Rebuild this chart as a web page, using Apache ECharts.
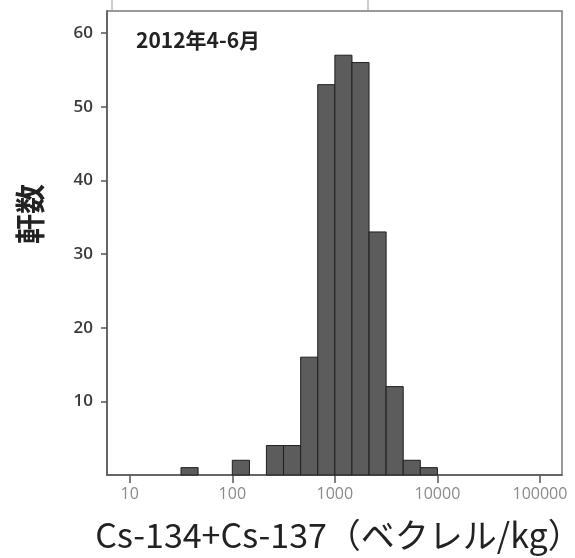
<!DOCTYPE html>
<html>
<head>
<meta charset="utf-8">
<script src="https://cdn.jsdelivr.net/npm/echarts@6/dist/echarts.min.js"></script>
<style>
html,body{margin:0;padding:0;background:#fff;}
#chart{width:575px;height:558px;}
</style>
</head>
<body>
<div id="chart"></div>
<script>
// Histogram bins (Bq/kg), lower and upper edges, and counts
const binLow  = [31.6, 46.4, 68.1, 100, 147, 215, 316, 464, 681, 1000, 1468, 2154, 3162, 4642, 6813];
const binHigh = [46.4, 68.1, 100, 147, 215, 316, 464, 681, 1000, 1468, 2154, 3162, 4642, 6813, 10000];
const counts  = [1, 0, 0, 2, 0, 4, 4, 16, 53, 57, 56, 33, 12, 2, 1];
const xTicks = [10, 100, 1000, 10000, 100000];
const yTicks = [10, 20, 30, 40, 50, 60];
const periodLabel = '2012年4-6月';
const xName = 'Cs-134+Cs-137（ベクレル/kg）';
const yName = '軒数';

const data = binLow.map((lo, i) => [lo, binHigh[i], counts[i]]);

const chart = echarts.init(document.getElementById('chart'), null, {renderer: 'canvas'});
chart.setOption({
  animation: false,
  backgroundColor: '#ffffff',
  grid: {left: 107, right: 13, top: 11, bottom: 83, show: true, containLabel: false, outerBoundsMode: 'none', borderColor: '#7a7a7a', borderWidth: 1.5, backgroundColor: 'transparent'},
  xAxis: {
    type: 'log', logBase: 10, min: 6, max: 164000,
    name: xName, nameLocation: 'middle', nameGap: 43,
    nameTextStyle: {fontFamily: 'Noto Sans CJK JP', fontSize: 34, color: '#222', padding: [0, 0, 0, 8]},
    axisLine: {show: true, lineStyle: {color: '#555', width: 1.5}},
    axisTick: {show: true, length: 8, inside: false, lineStyle: {color: '#555', width: 1.5}, customValues: xTicks},
    axisLabel: {show: true, customValues: xTicks, margin: 11, fontSize: 16, color: '#8a8a8a', fontFamily: 'Open Sans', formatter: v => String(Math.round(v))},
    splitLine: {show: false}, minorTick: {show: false}
  },
  yAxis: {
    type: 'value', min: 0, max: 63,
    axisLine: {show: true, lineStyle: {color: '#555', width: 1.5}},
    axisTick: {show: true, length: 6, inside: false, lineStyle: {color: '#555', width: 1.5}, customValues: yTicks},
    axisLabel: {show: true, customValues: yTicks, margin: 14, fontSize: 17, fontWeight: 600, color: '#3a3a3a', fontFamily: 'Open Sans'},
    splitLine: {show: false}
  },
  series: [{
    type: 'custom',
    data: data,
    encode: {x: [0, 1], y: 2},
    renderItem: function (params, api) {
      const h = api.value(2);
      if (!h) return null;
      const p0 = api.coord([api.value(0), h]);
      const p1 = api.coord([api.value(1), 0]);
      return {
        type: 'rect',
        shape: {x: p0[0], y: p0[1], width: p1[0] - p0[0], height: p1[1] - p0[1]},
        style: {fill: '#5c5c5c', stroke: '#1f1f1f', lineWidth: 1}
      };
    }
  }],
  graphic: [
    {type: 'text', left: 136, top: 30, style: {text: periodLabel, fontFamily: 'Noto Sans CJK JP', fontSize: 21, fontWeight: 'bold', fill: '#222'}},
    {type: 'text', x: 30, y: 214, rotation: Math.PI / 2, style: {text: yName, fontFamily: 'Noto Sans CJK JP', fontSize: 30, fontWeight: 'bold', fill: '#222', align: 'center', verticalAlign: 'middle'}},
    {type: 'line', shape: {x1: 112, y1: 0, x2: 112, y2: 10}, style: {stroke: '#999', lineWidth: 1}},
    {type: 'line', shape: {x1: 368, y1: 0, x2: 368, y2: 10}, style: {stroke: '#999', lineWidth: 1}}
  ]
});
</script>
</body>
</html>
